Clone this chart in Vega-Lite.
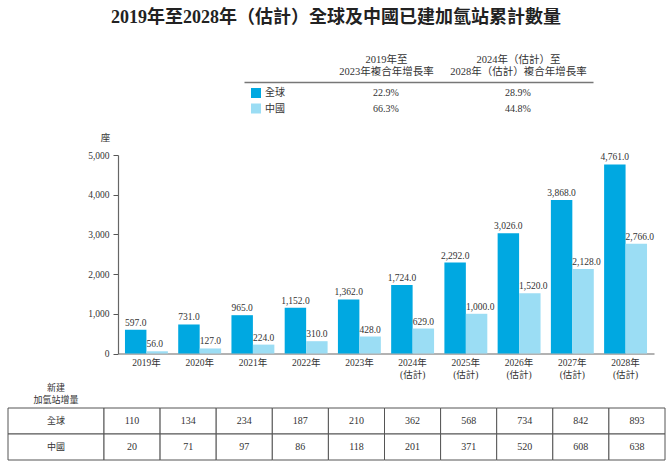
{
  "$schema": "https://vega.github.io/schema/vega-lite/v6.json",
  "width": 672,
  "height": 466,
  "padding": 0,
  "autosize": {"type": "none"},
  "background": "white",
  "config": {
    "font": "Liberation Serif, Noto Sans CJK TC",
    "view": {"stroke": null},
    "text": {"color": "#333333"}
  },
  "title": {
    "text": "2019年至2028年（估計）全球及中國已建加氫站累計數量",
    "frame": "group",
    "anchor": "middle",
    "offset": -27,
    "fontSize": 18,
    "fontWeight": "bold",
    "color": "#222222",
    "font": "Liberation Serif, Noto Sans CJK TC"
  },
  "datasets": {
    "stations": [
      {"year": "2019年", "series": "全球", "total": 597, "added": 110},
      {"year": "2020年", "series": "全球", "total": 731, "added": 134},
      {"year": "2021年", "series": "全球", "total": 965, "added": 234},
      {"year": "2022年", "series": "全球", "total": 1152, "added": 187},
      {"year": "2023年", "series": "全球", "total": 1362, "added": 210},
      {"year": "2024年(估計)", "series": "全球", "total": 1724, "added": 362},
      {"year": "2025年(估計)", "series": "全球", "total": 2292, "added": 568},
      {"year": "2026年(估計)", "series": "全球", "total": 3026, "added": 734},
      {"year": "2027年(估計)", "series": "全球", "total": 3868, "added": 842},
      {"year": "2028年(估計)", "series": "全球", "total": 4761, "added": 893},
      {"year": "2019年", "series": "中國", "total": 56, "added": 20},
      {"year": "2020年", "series": "中國", "total": 127, "added": 71},
      {"year": "2021年", "series": "中國", "total": 224, "added": 97},
      {"year": "2022年", "series": "中國", "total": 310, "added": 86},
      {"year": "2023年", "series": "中國", "total": 428, "added": 118},
      {"year": "2024年(估計)", "series": "中國", "total": 629, "added": 201},
      {"year": "2025年(估計)", "series": "中國", "total": 1000, "added": 371},
      {"year": "2026年(估計)", "series": "中國", "total": 1520, "added": 520},
      {"year": "2027年(估計)", "series": "中國", "total": 2128, "added": 608},
      {"year": "2028年(估計)", "series": "中國", "total": 2766, "added": 638}
    ],
    "cagr": [
      {"series": "全球", "period": "2019年至\n2023年複合年增長率", "rate": "22.9%"},
      {"series": "全球", "period": "2024年（估計）至\n2028年（估計）複合年增長率", "rate": "28.9%"},
      {"series": "中國", "period": "2019年至\n2023年複合年增長率", "rate": "66.3%"},
      {"series": "中國", "period": "2024年（估計）至\n2028年（估計）複合年增長率", "rate": "44.8%"}
    ],
    "rowlabels": [
      {"row": "header", "label": "新建\n加氫站增量"},
      {"row": "全球", "label": "全球"},
      {"row": "中國", "label": "中國"}
    ]
  },
  "resolve": {
    "scale": {"x": "independent", "y": "independent", "color": "independent", "xOffset": "independent"},
    "axis": {"x": "independent", "y": "independent"}
  },
  "layer": [
    {
      "data": {"name": "cagr"},
      "mark": {"type": "text", "fontSize": 10, "baseline": "middle", "align": "center"},
      "encoding": {
        "x": {
          "field": "period", "type": "nominal", "sort": null,
          "scale": {"type": "point", "range": [244, 593], "padding": 0.822, "align": 0.654},
          "axis": {
            "orient": "top", "offset": -82, "title": null,
            "ticks": false, "domainColor": "#777777", "domainWidth": 1.3,
            "labelFontSize": 10.5, "labelColor": "#333333", "labelAngle": 0,
            "labelPadding": 17.7, "labelLineHeight": 12.7,
            "labelExpr": "split(datum.label, '\\n')"
          }
        },
        "y": {
          "field": "series", "type": "nominal", "sort": ["全球", "中國"],
          "scale": {"type": "point", "range": [93, 108.5], "padding": 0},
          "axis": null
        },
        "text": {"field": "rate"}
      }
    },
    {
      "data": {"name": "stations"},
      "layer": [
        {
          "mark": {"type": "bar"},
          "encoding": {
            "x": {
              "field": "year", "type": "nominal",
              "scale": {"range": [118, 654], "paddingInner": 0.194, "paddingOuter": 0.131},
              "axis": {
                "orient": "bottom", "offset": -112.5, "title": null,
                "ticks": false, "domainColor": "#666666", "domainWidth": 1.2,
                "labelAngle": 0, "labelFontSize": 9.5, "labelColor": "#333333",
                "labelPadding": 4, "labelLineHeight": 12,
                "labelExpr": "split(replace(datum.label, '(', '|('), '|')"
              }
            },
            "xOffset": {
              "field": "series", "type": "nominal", "sort": ["全球", "中國"],
              "scale": {"paddingInner": 0, "paddingOuter": 0}
            },
            "y": {
              "field": "total", "type": "quantitative",
              "scale": {"domain": [0, 5000], "range": [353.5, 155], "nice": false},
              "axis": {
                "orient": "left", "offset": -118,
                "values": [0, 1000, 2000, 3000, 4000, 5000],
                "format": ",d", "grid": false,
                "tickSize": 5, "tickColor": "#555555", "domainColor": "#666666", "domainWidth": 1.2,
                "labelFontSize": 9.5, "labelColor": "#333333", "labelPadding": 4,
                "title": "座", "titleAngle": 0, "titleX": -13, "titleY": 137,
                "titleAlign": "center", "titleBaseline": "middle",
                "titleFontSize": 9.5, "titleFontWeight": "normal", "titleColor": "#333333"
              }
            },
            "color": {
              "field": "series", "type": "nominal",
              "scale": {"domain": ["全球", "中國"], "range": ["#00A8E1", "#9BDDF4"]},
              "legend": {
                "orient": "none", "legendX": 251, "legendY": 88, "title": null,
                "direction": "vertical", "symbolType": "square", "symbolSize": 100,
                "symbolStrokeWidth": 0, "labelFontSize": 10, "labelColor": "#333333",
                "labelOffset": 4, "rowPadding": 5.5, "padding": 0
              }
            }
          }
        },
        {
          "transform": [{"filter": "datum.series == '全球'"}],
          "mark": {"type": "text", "fontSize": 9.5, "baseline": "bottom", "align": "center", "dy": -2},
          "encoding": {
            "x": {"field": "year", "type": "nominal"},
            "xOffset": {"field": "series", "type": "nominal", "sort": ["全球", "中國"]},
            "y": {"field": "total", "type": "quantitative"},
            "text": {"field": "total", "type": "quantitative", "format": ",.1f"}
          }
        },
        {
          "transform": [{"filter": "datum.series == '中國'"}],
          "mark": {"type": "text", "fontSize": 9.5, "baseline": "bottom", "align": "left", "dx": -10.7, "dy": -2},
          "encoding": {
            "x": {"field": "year", "type": "nominal"},
            "xOffset": {"field": "series", "type": "nominal", "sort": ["全球", "中國"]},
            "y": {"field": "total", "type": "quantitative"},
            "text": {"field": "total", "type": "quantitative", "format": ",.1f"}
          }
        }
      ]
    },
    {
      "data": {"name": "rowlabels"},
      "layer": [
        {
          "transform": [{"filter": "datum.row != 'header'"}],
          "mark": {"type": "rect", "fill": "white", "stroke": "#555555", "strokeWidth": 1},
          "encoding": {
            "x": {"datum": "地區", "type": "nominal", "scale": {"range": [8, 104], "paddingInner": 0, "paddingOuter": 0}, "axis": null},
            "y": {"field": "row", "type": "nominal", "scale": {"domain": ["header", "全球", "中國"], "range": [382, 460], "paddingInner": 0, "paddingOuter": 0}, "axis": null}
          }
        },
        {
          "transform": [{"filter": "datum.row != 'header'"}],
          "mark": {"type": "text", "fontSize": 9, "baseline": "middle", "align": "center"},
          "encoding": {
            "x": {"datum": "地區", "type": "nominal"},
            "y": {"field": "row", "type": "nominal"},
            "text": {"field": "label"}
          }
        },
        {
          "transform": [{"filter": "datum.row == 'header'"}],
          "mark": {"type": "text", "fontSize": 9, "baseline": "middle", "align": "center", "lineBreak": "\n", "lineHeight": 11.5, "dy": -7},
          "encoding": {
            "x": {"datum": "地區", "type": "nominal"},
            "y": {"field": "row", "type": "nominal"},
            "text": {"field": "label"}
          }
        }
      ]
    },
    {
      "data": {"name": "stations"},
      "layer": [
        {
          "mark": {"type": "rect", "fill": "white", "stroke": "#555555", "strokeWidth": 1},
          "encoding": {
            "x": {"field": "year", "type": "nominal", "scale": {"range": [104, 665], "paddingInner": 0, "paddingOuter": 0}, "axis": null},
            "y": {"field": "series", "type": "nominal", "sort": ["全球", "中國"], "scale": {"range": [408, 460], "paddingInner": 0, "paddingOuter": 0}, "axis": null}
          }
        },
        {
          "mark": {"type": "text", "fontSize": 10, "baseline": "middle", "align": "center"},
          "encoding": {
            "x": {"field": "year", "type": "nominal"},
            "y": {"field": "series", "type": "nominal", "sort": ["全球", "中國"]},
            "text": {"field": "added", "type": "quantitative", "format": "d"}
          }
        }
      ]
    }
  ]
}
